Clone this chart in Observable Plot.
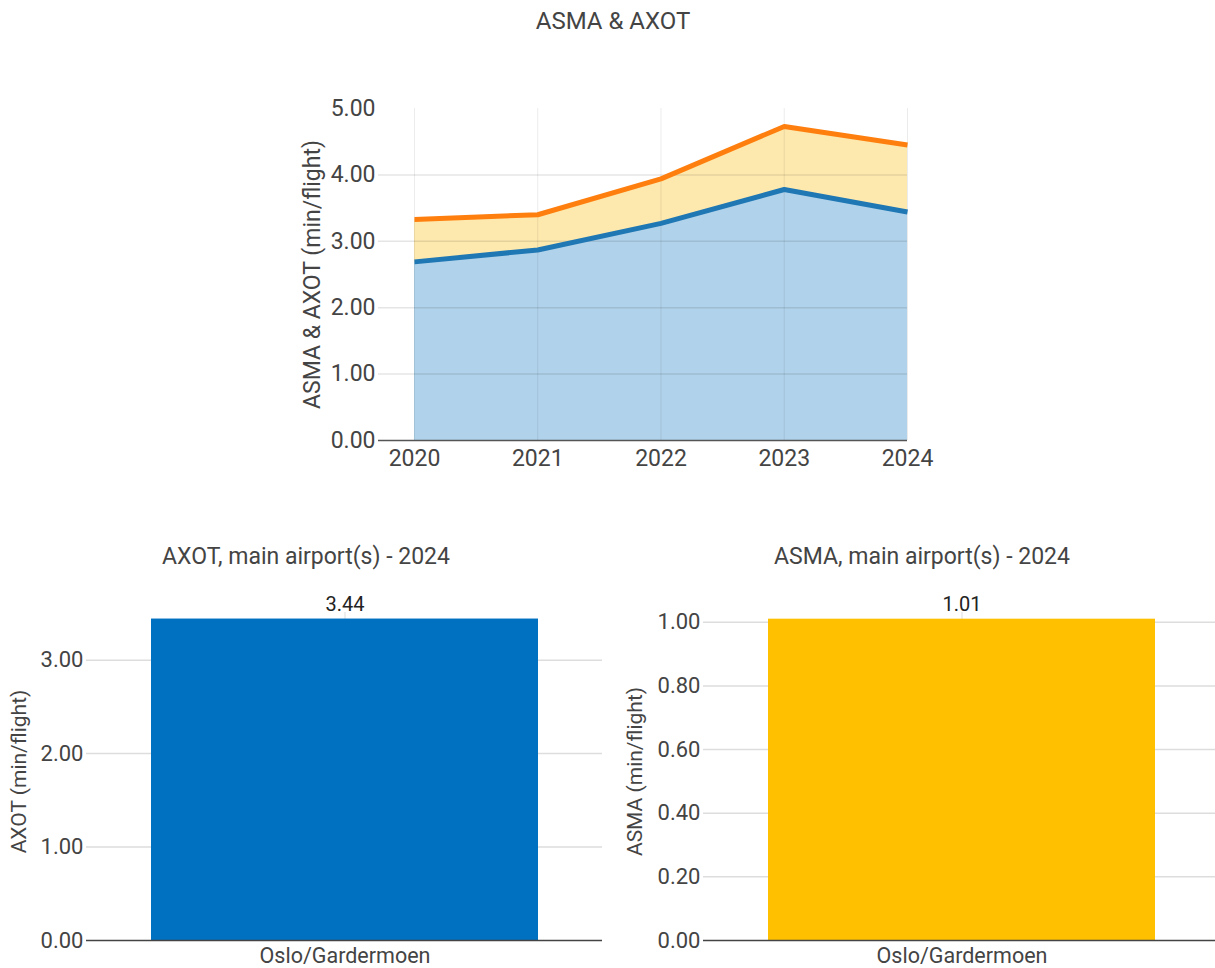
<!DOCTYPE html>
<html><head><meta charset="utf-8">
<script src="https://cdn.jsdelivr.net/npm/d3@7"></script>
<script src="https://cdn.jsdelivr.net/npm/@observablehq/plot@0.6"></script>
<style>
body{margin:0;background:#fff;font-family:Roboto,sans-serif;}
#root{position:relative;width:1215px;height:968px;overflow:hidden;background:#fff;}
.title{position:absolute;transform:translateX(-50%);white-space:nowrap;color:#444;font-family:Roboto,sans-serif;}
.chart{position:absolute;}
.chart svg{max-width:none !important;}
</style></head><body><div id="root"></div>
<script>
// ---- data ----
const years = [2020, 2021, 2022, 2023, 2024];
const axotByYear = [2.69, 2.87, 3.27, 3.78, 3.44];
const asmaByYear = [0.64, 0.53, 0.67, 0.95, 1.01];
const airports = ["Oslo/Gardermoen"];
const axot2024 = [3.44];
const asma2024 = [1.01];
const topTicks = [0, 1, 2, 3, 4, 5];
const axotTicks = [0, 1, 2, 3];
const asmaTicks = [0, 0.2, 0.4, 0.6, 0.8, 1.0];

const titleTop = "ASMA & AXOT";
const titleAxot = "AXOT, main airport(s) - 2024";
const titleAsma = "ASMA, main airport(s) - 2024";
const labelTop = "ASMA & AXOT (min/flight)";
const labelAxot = "AXOT (min/flight)";
const labelAsma = "ASMA (min/flight)";

const root = document.getElementById("root");
function addTitle(text, cx, y, size) {
  const d = document.createElement("div");
  d.className = "title";
  d.textContent = text;
  d.style.left = cx + "px";
  d.style.top = y + "px";
  d.style.fontSize = size + "px";
  d.style.lineHeight = size + "px";
  root.appendChild(d);
}
function place(svg, left, y) {
  const w = document.createElement("div");
  w.className = "chart";
  w.style.left = left + "px";
  w.style.top = y + "px";
  w.style.width = svg.getAttribute("width") + "px";
  w.appendChild(svg);
  root.appendChild(w);
}

const rows = years.map((y, i) => ({year: y, axot: axotByYear[i], total: axotByYear[i] + asmaByYear[i]}));
const fmt = d3.format(".2f");
const baseStyle = {fontFamily: "Roboto, sans-serif", fontSize: "22px", color: "#444", background: "transparent", overflow: "visible"};

// ---- top area chart ----
const topChart = Plot.plot({
  width: 1215, height: 490,
  marginLeft: 378, marginRight: 308, marginTop: 108, marginBottom: 50,
  style: baseStyle,
  x: {type: "linear", domain: [2019.708, 2024]},
  y: {domain: [0, 5]},
  marks: [
    Plot.areaY(rows, {x: "year", y1: 0, y2: "axot", fill: "#b0d2ea"}),
    Plot.areaY(rows, {x: "year", y1: "axot", y2: "total", fill: "#fde9ae"}),
    Plot.ruleY([1, 2, 3, 4], {stroke: "#000", strokeOpacity: 0.1, strokeWidth: 1.5}),
    Plot.ruleX(years, {y1: 0, y2: 5, stroke: "#000", strokeOpacity: 0.08}),
    Plot.ruleY([0], {stroke: "#555", strokeWidth: 1.5}),
    Plot.lineY(rows, {x: "year", y: "axot", stroke: "#1f77b4", strokeWidth: 5, strokeLinecap: "butt"}),
    Plot.lineY(rows, {x: "year", y: "total", stroke: "#ff7f0e", strokeWidth: 5, strokeLinecap: "butt"}),
    Plot.axisY({ticks: topTicks, tickFormat: fmt, tickSize: 0, tickPadding: 3, fontSize: 23, label: null}),
    Plot.axisX({ticks: years, tickFormat: d => String(d), tickSize: 0, tickPadding: 9, fontSize: 23, label: null}),
    Plot.text([labelTop], {frameAnchor: "left", textAnchor: "middle", dx: -66, rotate: -90, fontSize: 23, fill: "#444", text: d => d})
  ]
});
place(topChart, 0, 0);
addTitle(titleTop, 613, 9, 24);

// ---- bar charts ----
function barChart({cats, vals, ticks, domainMax, marginLeft, marginRight, width, color, label, labelDx}) {
  const data = cats.map((c, i) => ({cat: c, v: vals[i]}));
  return Plot.plot({
    width, height: 438,
    marginLeft, marginRight, marginTop: 82, marginBottom: 28,
    style: baseStyle,
    x: {type: "band", domain: cats, padding: 1 / 7},
    y: {domain: [0, domainMax]},
    marks: [
      Plot.ruleY(ticks.filter(t => t > 0), {stroke: "#ddd", strokeWidth: 1.5}),
      Plot.ruleX(cats, {x: d => d, stroke: "#ddd"}),
      Plot.barY(data, {x: "cat", y: "v", fill: color}),
      Plot.ruleY([0], {stroke: "#444", strokeWidth: 1.5}),
      Plot.text(data, {x: "cat", y: "v", text: d => fmt(d.v), lineAnchor: "bottom", dy: -8, fontSize: 20, fill: "#222"}),
      Plot.axisY({ticks, tickFormat: fmt, tickSize: 0, tickPadding: 3, fontSize: 22, label: null}),
      Plot.axisX({tickSize: 0, tickPadding: 7, fontSize: 21.5, label: null}),
      Plot.text([label], {frameAnchor: "left", textAnchor: "middle", dx: labelDx, dy: -5, rotate: -90, fontSize: 21, fill: "#444", text: d => d})
    ]
  });
}

place(barChart({cats: airports, vals: axot2024, ticks: axotTicks, domainMax: 3.51, marginLeft: 86, marginRight: 8, width: 610,
  color: "#0070c0", label: labelAxot, labelDx: -67}), 0, 530);
addTitle(titleAxot, 306, 545, 23);

place(barChart({cats: airports, vals: asma2024, ticks: asmaTicks, domainMax: 1.031, marginLeft: 93, marginRight: 0, width: 609,
  color: "#ffc000", label: labelAsma, labelDx: -68}), 610, 530);
addTitle(titleAsma, 922, 545, 23);
</script>
</body></html>
